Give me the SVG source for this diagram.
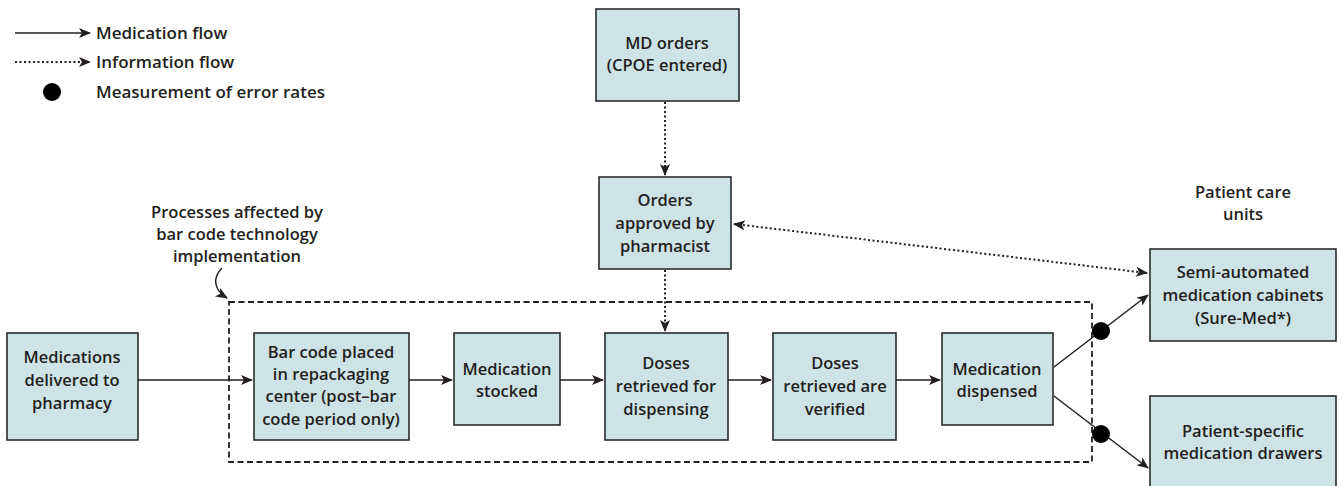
<svg xmlns="http://www.w3.org/2000/svg" width="1342" height="486" viewBox="0 0 1342 486">
<defs>
<style>
.box{fill:#cde3e6;stroke:#2b2b2b;stroke-width:1.6}
text{font-family:"Open Sans","Noto Sans",sans-serif;font-size:16.5px;font-weight:600;fill:#231f20;text-anchor:middle}
.lg{text-anchor:start;font-size:17px}
.solid{stroke:#231f20;stroke-width:1.5;fill:none}
.dot{stroke:#231f20;stroke-width:2;fill:none;stroke-dasharray:2 2.5}
.dash{stroke:#231f20;stroke-width:1.8;fill:none;stroke-dasharray:6 3.5}
</style>
<marker id="ah" viewBox="0 0 12 10" refX="11" refY="5" markerWidth="12" markerHeight="10" markerUnits="userSpaceOnUse" orient="auto-start-reverse">
<path d="M0,0 L12,5 L0,10 L3,5 Z" fill="#231f20"/>
</marker>
</defs>

<g id="legend">
<line class="solid" x1="15" y1="33" x2="90" y2="33" marker-end="url(#ah)"/>
<text class="lg" x="96" y="39">Medication flow</text>
<line class="dot" x1="15" y1="62" x2="90" y2="62" marker-end="url(#ah)"/>
<text class="lg" x="96" y="68">Information flow</text>
<circle cx="52" cy="92" r="9" fill="#000"/>
<text class="lg" x="96" y="98">Measurement of error rates</text>
</g>

<g id="region">
<rect class="dash" x="229" y="302" width="863" height="160"/>
<text x="237" y="218">Processes affected by</text>
<text x="237" y="240">bar code technology</text>
<text x="237" y="262">implementation</text>
<path class="solid" d="M222,268 C212,278 214,290 227,298" marker-end="url(#ah)"/>
<text x="1243" y="198">Patient care</text>
<text x="1243" y="220">units</text>
</g>

<g id="n_md">
<rect class="box" x="596" y="9" width="143" height="92"/>
<text x="667" y="49">MD orders</text>
<text x="667" y="71">(CPOE entered)</text>
</g>
<g id="n_orders">
<rect class="box" x="599" y="177" width="132" height="92"/>
<text x="665" y="206">Orders</text>
<text x="665" y="229">approved by</text>
<text x="665" y="252">pharmacist</text>
</g>
<g id="n_deliv">
<rect class="box" x="7" y="333" width="131" height="107"/>
<text x="72" y="363">Medications</text>
<text x="72" y="386">delivered to</text>
<text x="72" y="409">pharmacy</text>
</g>
<g id="n_barcode">
<rect class="box" x="254" y="333" width="155" height="107"/>
<text x="331" y="358">Bar code placed</text>
<text x="331" y="380">in repackaging</text>
<text x="331" y="402">center (post–bar</text>
<text x="331" y="425">code period only)</text>
</g>
<g id="n_stocked">
<rect class="box" x="454" y="333" width="106" height="92"/>
<text x="507" y="375">Medication</text>
<text x="507" y="397">stocked</text>
</g>
<g id="n_retrieved">
<rect class="box" x="605" y="333" width="123" height="107"/>
<text x="666" y="369">Doses</text>
<text x="666" y="392">retrieved for</text>
<text x="666" y="415">dispensing</text>
</g>
<g id="n_verified">
<rect class="box" x="773" y="333" width="123" height="107"/>
<text x="835" y="369">Doses</text>
<text x="835" y="392">retrieved are</text>
<text x="835" y="415">verified</text>
</g>
<g id="n_dispensed">
<rect class="box" x="942" y="333" width="111" height="92"/>
<text x="997" y="375">Medication</text>
<text x="997" y="397">dispensed</text>
</g>
<g id="n_cabinets">
<rect class="box" x="1150" y="249" width="186" height="92"/>
<text x="1243" y="278">Semi-automated</text>
<text x="1243" y="301">medication cabinets</text>
<text x="1243" y="324">(Sure-Med*)</text>
</g>
<g id="n_drawers">
<rect class="box" x="1150" y="396" width="186" height="100"/>
<text x="1243" y="437">Patient-specific</text>
<text x="1243" y="459">medication drawers</text>
</g>

<g id="connectors">
<line class="dot" x1="665" y1="102" x2="665" y2="175" marker-end="url(#ah)"/>
<line class="dot" x1="665" y1="270" x2="665" y2="331" marker-end="url(#ah)"/>
<line class="dot" x1="734" y1="224" x2="1147" y2="273" marker-start="url(#ah)" marker-end="url(#ah)"/>
<line class="solid" x1="138" y1="380" x2="252" y2="380" marker-end="url(#ah)"/>
<line class="solid" x1="409" y1="380" x2="452" y2="380" marker-end="url(#ah)"/>
<line class="solid" x1="560" y1="380" x2="603" y2="380" marker-end="url(#ah)"/>
<line class="solid" x1="728" y1="380" x2="771" y2="380" marker-end="url(#ah)"/>
<line class="solid" x1="896" y1="380" x2="940" y2="380" marker-end="url(#ah)"/>
<line class="solid" x1="1054" y1="367" x2="1148" y2="295" marker-end="url(#ah)"/>
<line class="solid" x1="1054" y1="396" x2="1148" y2="468" marker-end="url(#ah)"/>
<circle cx="1101" cy="331" r="9" fill="#000"/>
<circle cx="1101" cy="434" r="9" fill="#000"/>
</g>
</svg>
